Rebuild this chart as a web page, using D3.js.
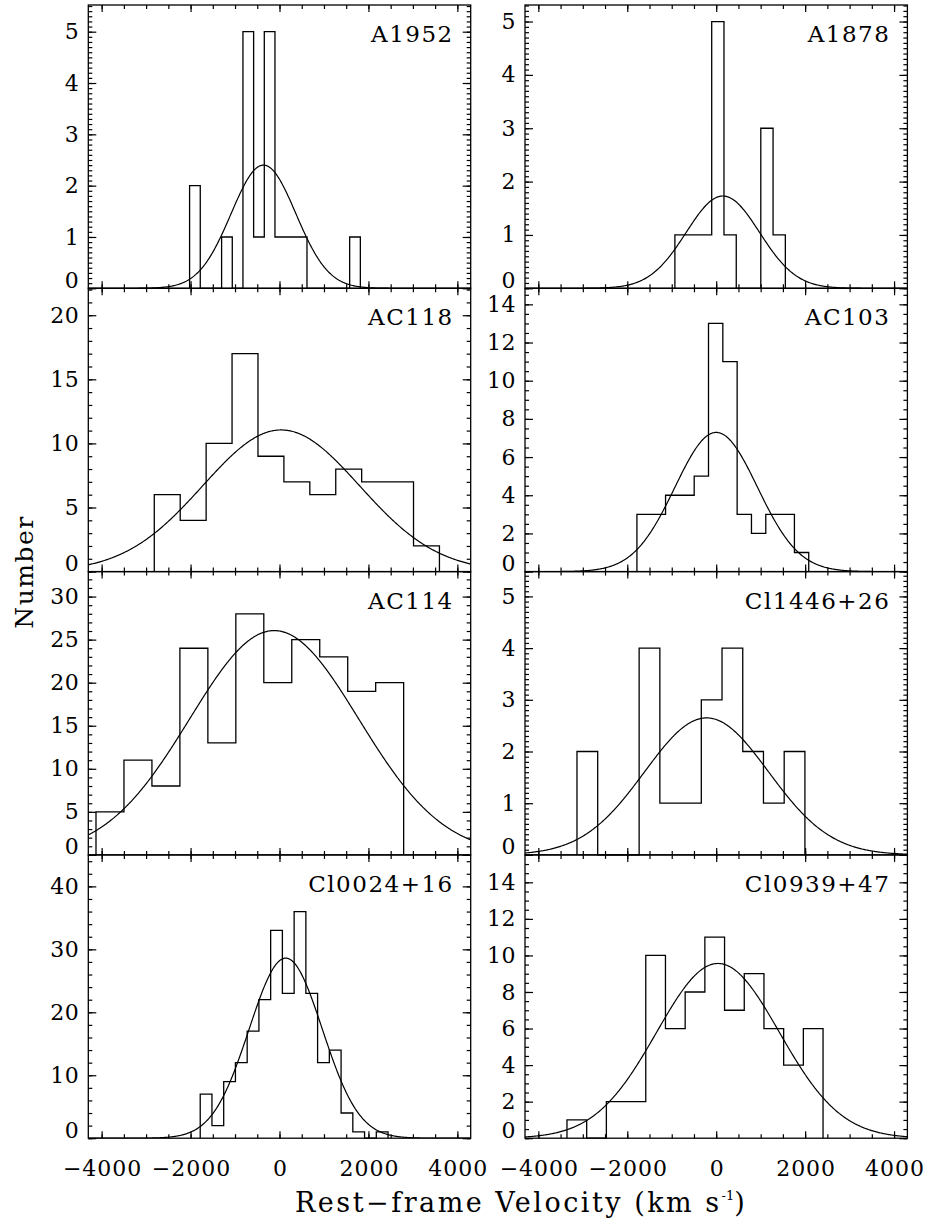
<!DOCTYPE html>
<html>
<head>
<meta charset="utf-8">
<script src="https://cdn.jsdelivr.net/npm/d3@7"></script>
<style>
body { margin: 0; background: #fff; }
</style>
</head>
<body>
<div id="chart"></div>
<script>
// panels are read left to right, top to bottom
var panelNames = ["A1952", "A1878", "AC118", "AC103", "AC114", "Cl1446+26", "Cl0024+16", "Cl0939+47"];

// histogram bins (km/s): first edge, bin width and counts
var binStarts = [-2022, -929, -2816, -1783, -4127, -3131, -1783, -3356];
var binWidths = [240, 276, 583, 322, 629, 466, 264, 443];
var binCounts = [
    [2, 0, 0, 1, 0, 5, 1, 5, 1, 1, 1, 0, 0, 0, 0, 1],
    [1, 1, 1, 5, 1, 0, 0, 3, 1],
    [6, 4, 10, 17, 9, 7, 6, 8, 7, 7, 2],
    [3, 3, 4, 4, 5, 13, 11, 3, 2, 3, 3, 1],
    [5, 11, 8, 24, 13, 28, 20, 25, 23, 19, 20],
    [2, 0, 0, 4, 1, 1, 3, 4, 2, 1, 2],
    [7, 2, 9, 12, 17, 22, 33, 23, 36, 23, 12, 14, 4, 1, 0, 1],
    [1, 0, 2, 2, 10, 6, 8, 11, 7, 9, 6, 4, 6]
];

// gaussian fits
var fitMeans = [-360, 150, 37, 0, -120, -217, 140, 40];
var fitSigmas = [728, 824, 1762, 928, 1900, 1394, 822, 1380];
var fitPeaks = [2.40, 1.73, 11.05, 7.29, 26.05, 2.65, 28.6, 9.56];

// y axes
var yMaxes = [5.52, 5.31, 22.1, 14.84, 32.9, 5.48, 45, 15.5];
var yTickSteps = [1, 1, 5, 2, 5, 1, 10, 2];
var yMinorSteps = [0.1, 0.1, 1, 0.5, 1, 0.1, 2, 0.5];

// x axis
var xDomain = [-4300, 4300];
var xTickValues = [-4000, -2000, 0, 2000, 4000];
var xMinorValues = d3.range(-4000, 4001, 500);

var svgWidth = 930;
var svgHeight = 1227;
var fontFamily = "DejaVu Serif, Liberation Serif, Noto Serif, Times New Roman, serif";

var margin = {
    top: 5,
    left: 88.3
};

var panelWidth = 382.4;
var panelHeight = 283.3;
var columnStep = 436.7;

var svg = d3.select("#chart")
    .append("svg")
    .attr("width", svgWidth)
    .attr("height", svgHeight);

var xScale = d3.scaleLinear()
    .domain(xDomain)
    .range([0, panelWidth]);

// draws a set of inward ticks and drops the axis line
function addTicks(g, axis, transform) {
    g.append("g")
        .attr("transform", transform)
        .call(axis)
        .call(s => s.select(".domain").remove())
        .selectAll("line")
        .attr("stroke", "#000")
        .attr("stroke-width", 1.2);
}

panelNames.forEach(function(name, i) {
    var col = i % 2;
    var row = Math.floor(i / 2);

    var chartGroup = svg.append("g")
        .attr("transform", `translate(${margin.left + col * columnStep}, ${margin.top + row * panelHeight})`);

    var yScale = d3.scaleLinear()
        .domain([0, yMaxes[i]])
        .range([panelHeight, 0]);

    var yMajor = d3.range(0, yMaxes[i] + 1e-9, yTickSteps[i]);
    var yMinor = d3.range(0, yMaxes[i] + 1e-9, yMinorSteps[i]);

    // ticks on all four sides
    addTicks(chartGroup, d3.axisBottom(xScale).tickValues(xMinorValues).tickSize(-4).tickFormat(""), `translate(0, ${panelHeight})`);
    addTicks(chartGroup, d3.axisBottom(xScale).tickValues(xTickValues).tickSize(-7).tickFormat(""), `translate(0, ${panelHeight})`);
    addTicks(chartGroup, d3.axisTop(xScale).tickValues(xMinorValues).tickSize(-4).tickFormat(""), "translate(0, 0)");
    addTicks(chartGroup, d3.axisTop(xScale).tickValues(xTickValues).tickSize(-7).tickFormat(""), "translate(0, 0)");
    addTicks(chartGroup, d3.axisLeft(yScale).tickValues(yMinor).tickSize(-4).tickFormat(""), "translate(0, 0)");
    addTicks(chartGroup, d3.axisLeft(yScale).tickValues(yMajor).tickSize(-8).tickFormat(""), "translate(0, 0)");
    addTicks(chartGroup, d3.axisRight(yScale).tickValues(yMinor).tickSize(-4).tickFormat(""), `translate(${panelWidth}, 0)`);
    addTicks(chartGroup, d3.axisRight(yScale).tickValues(yMajor).tickSize(-8).tickFormat(""), `translate(${panelWidth}, 0)`);

    // y tick labels
    var yLabels = chartGroup.append("g")
        .call(d3.axisLeft(yScale).tickValues(yMajor).tickSize(0).tickPadding(9).tickFormat(d3.format("d")))
        .attr("font-family", fontFamily)
        .attr("font-size", 22);
    yLabels.select(".domain").remove();
    yLabels.selectAll("text")
        .attr("letter-spacing", "0.5px")
        .filter(d => d === 0)
        .attr("y", -8);

    // x tick labels only on the bottom row
    if (row === 3) {
        var xLabels = chartGroup.append("g")
            .attr("transform", `translate(0, ${panelHeight})`)
            .call(d3.axisBottom(xScale).tickValues(xTickValues).tickSize(0).tickPadding(22).tickFormat(d3.format("d")))
            .attr("font-family", fontFamily)
            .attr("font-size", 22);
        xLabels.select(".domain").remove();
        xLabels.selectAll("text")
            .attr("letter-spacing", "1px")
            .attr("dx", "0.5px");
    }

    // clip for the fit curve
    var clipId = "clip" + i;
    chartGroup.append("clipPath")
        .attr("id", clipId)
        .append("rect")
        .attr("width", panelWidth)
        .attr("height", panelHeight);

    // histogram outline
    var edges = binCounts[i].map((c, k) => binStarts[i] + k * binWidths[i]);
    var lastEdge = binStarts[i] + binCounts[i].length * binWidths[i];
    var stepPoints = [[edges[0], 0]]
        .concat(binCounts[i].map((c, k) => [edges[k], c]))
        .concat([[lastEdge, binCounts[i][binCounts[i].length - 1]], [lastEdge, 0]]);

    var stepLine = d3.line()
        .x(d => xScale(d[0]))
        .y(d => yScale(d[1]))
        .curve(d3.curveStepAfter);

    chartGroup.append("path")
        .datum(stepPoints)
        .attr("d", stepLine)
        .attr("fill", "none")
        .attr("stroke", "#000")
        .attr("stroke-width", 1.3);

    // gaussian fit
    var fitPoints = d3.range(xDomain[0], xDomain[1] + 1, 20).map(v =>
        [v, fitPeaks[i] * Math.exp(-Math.pow(v - fitMeans[i], 2) / (2 * fitSigmas[i] * fitSigmas[i]))]);

    chartGroup.append("path")
        .datum(fitPoints)
        .attr("clip-path", `url(#${clipId})`)
        .attr("d", d3.line().x(d => xScale(d[0])).y(d => yScale(d[1])))
        .attr("fill", "none")
        .attr("stroke", "#000")
        .attr("stroke-width", 1.2);

    // frame
    chartGroup.append("rect")
        .attr("width", panelWidth)
        .attr("height", panelHeight)
        .attr("fill", "none")
        .attr("stroke", "#000")
        .attr("stroke-width", 1.3);

    // cluster name
    chartGroup.append("text")
        .attr("x", panelWidth - 17)
        .attr("y", 37)
        .attr("text-anchor", "end")
        .attr("font-family", fontFamily)
        .attr("font-size", 23)
        .attr("letter-spacing", "1.5px")
        .text(name);
});

// Labels
// x-axis
var xTitle = svg.append("text")
    .attr("x", 295)
    .attr("y", 1212)
    .attr("font-family", fontFamily)
    .attr("font-size", 27)
    .attr("letter-spacing", "2.5px");
xTitle.append("tspan").text("Rest\u2212frame Velocity (km s");
xTitle.append("tspan").attr("dy", -12).attr("font-size", 13).attr("letter-spacing", "0px").text("-1");
xTitle.append("tspan").attr("dy", 12).text(")");

// y-axis
svg.append("text")
    .attr("transform", "translate(33, 572) rotate(-90)")
    .attr("text-anchor", "middle")
    .attr("font-family", fontFamily)
    .attr("font-size", 25)
    .attr("letter-spacing", "1.5px")
    .text("Number");
</script>
</body>
</html>
